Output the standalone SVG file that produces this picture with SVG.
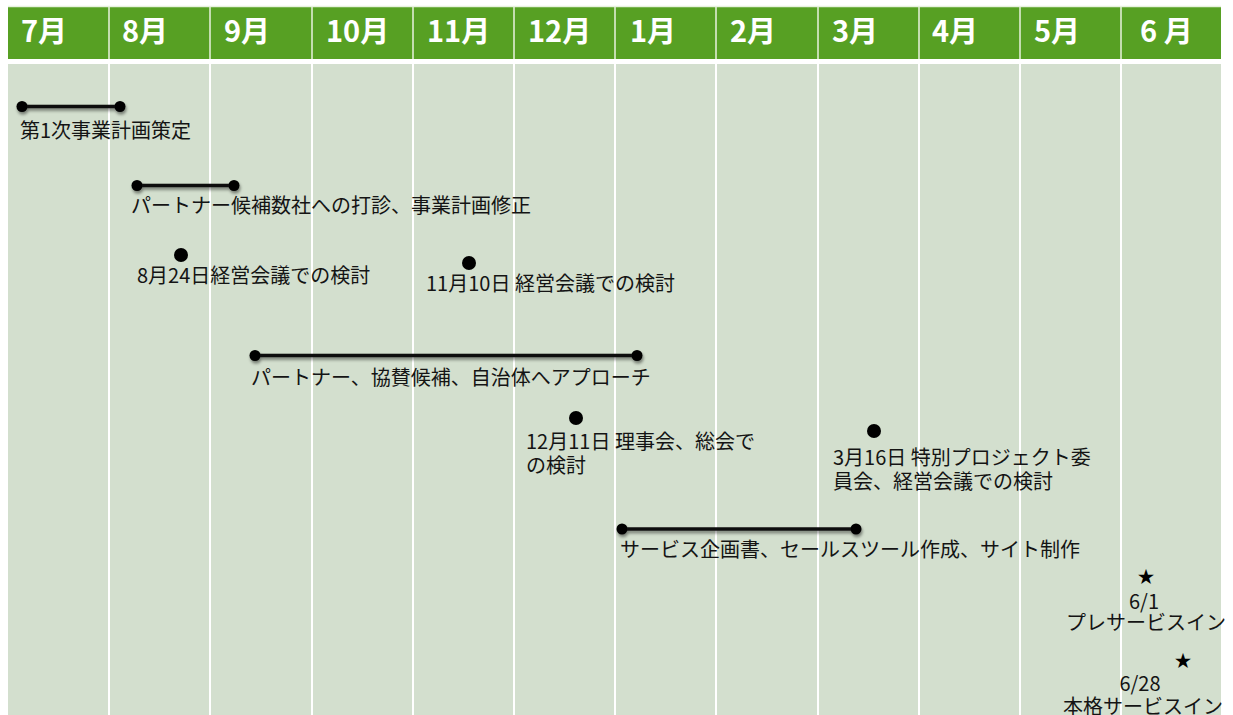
<svg xmlns="http://www.w3.org/2000/svg" width="1233" height="715" viewBox="0 0 1233 715">
<defs>
<style>
.hd{fill:#57A023}
.bd{fill:#D3DFCE}
.gl{stroke:#FFFFFF;stroke-width:2}
.gh{stroke:#E8F2DF;stroke-width:1.5}
.mh{font-family:"Noto Sans CJK JP","Noto Sans",sans-serif;font-weight:700;font-size:29px;fill:#FFFFFF}
.t{font-family:"Noto Sans CJK JP","Noto Sans",sans-serif;font-size:20px;fill:#141414}
.bar{stroke:#111;stroke-width:3.5;stroke-linecap:round}
.end{fill:#000}
.dot{fill:#000}
.st{font-family:"Noto Sans CJK JP","DejaVu Sans",sans-serif;font-size:17px;fill:#000}
</style>
<filter id="sh" x="-10%" y="-100%" width="120%" height="400%">
<feDropShadow dx="1" dy="2.5" stdDeviation="1.6" flood-color="#000" flood-opacity="0.45"/>
</filter>
</defs>
<rect width="1233" height="715" fill="#FFFFFF"/>
<g id="header">
<rect class="hd" x="8" y="7" width="1213" height="52"/>
<line class="gh" x1="8" y1="6.5" x2="1221" y2="6.5"/>
<g class="gh">
<line x1="109" y1="7" x2="109" y2="59"/><line x1="210" y1="7" x2="210" y2="59"/><line x1="312" y1="7" x2="312" y2="59"/><line x1="413" y1="7" x2="413" y2="59"/><line x1="514" y1="7" x2="514" y2="59"/><line x1="615" y1="7" x2="615" y2="59"/><line x1="716" y1="7" x2="716" y2="59"/><line x1="818" y1="7" x2="818" y2="59"/><line x1="919" y1="7" x2="919" y2="59"/><line x1="1020" y1="7" x2="1020" y2="59"/><line x1="1121" y1="7" x2="1121" y2="59"/>
</g>
<text class="mh" x="21" y="42">7月</text>
<text class="mh" x="122" y="42">8月</text>
<text class="mh" x="224" y="42">9月</text>
<text class="mh" x="326" y="42">10月</text>
<text class="mh" x="427" y="42">11月</text>
<text class="mh" x="528" y="42">12月</text>
<text class="mh" x="630" y="42">1月</text>
<text class="mh" x="730" y="42">2月</text>
<text class="mh" x="832" y="42">3月</text>
<text class="mh" x="932" y="42">4月</text>
<text class="mh" x="1034" y="42">5月</text>
<text class="mh" x="1140" y="42">6 月</text>
</g>
<g id="body">
<rect class="bd" x="8" y="64" width="1213" height="651"/>
<g class="gl">
<line x1="109" y1="64" x2="109" y2="715"/><line x1="210" y1="64" x2="210" y2="715"/><line x1="312" y1="64" x2="312" y2="715"/><line x1="413" y1="64" x2="413" y2="715"/><line x1="514" y1="64" x2="514" y2="715"/><line x1="615" y1="64" x2="615" y2="715"/><line x1="716" y1="64" x2="716" y2="715"/><line x1="818" y1="64" x2="818" y2="715"/><line x1="919" y1="64" x2="919" y2="715"/><line x1="1020" y1="64" x2="1020" y2="715"/><line x1="1121" y1="64" x2="1121" y2="715"/>
</g>
</g>
<g id="connectors">
<g filter="url(#sh)">
<line class="bar" x1="22" y1="106.5" x2="120" y2="106.5"/>
<circle class="end" cx="22" cy="106.5" r="5.5"/><circle class="end" cx="120" cy="106.5" r="5.5"/>
</g>
<g filter="url(#sh)">
<line class="bar" x1="137" y1="185.5" x2="234" y2="185.5"/>
<circle class="end" cx="137" cy="185.5" r="5.5"/><circle class="end" cx="234" cy="185.5" r="5.5"/>
</g>
<g filter="url(#sh)">
<line class="bar" x1="255" y1="355.5" x2="637" y2="355.5"/>
<circle class="end" cx="255" cy="355.5" r="5.5"/><circle class="end" cx="637" cy="355.5" r="5.5"/>
</g>
<g filter="url(#sh)">
<line class="bar" x1="622" y1="529" x2="856" y2="529"/>
<circle class="end" cx="622" cy="529" r="5.5"/><circle class="end" cx="856" cy="529" r="5.5"/>
</g>
</g>
<g id="n-plan1">
<text class="t" x="20" y="138">第1次事業計画策定</text>
</g>
<g id="n-partner1">
<text class="t" x="131" y="213">パートナー候補数社への打診、事業計画修正</text>
</g>
<g id="n-aug24">
<circle class="dot" cx="181" cy="255" r="7"/>
<text class="t" x="137" y="283">8月24日経営会議での検討</text>
</g>
<g id="n-nov10">
<circle class="dot" cx="469" cy="263" r="7"/>
<text class="t" x="426" y="291">11月10日 経営会議での検討</text>
</g>
<g id="n-approach">
<text class="t" x="251" y="385">パートナー、協賛候補、自治体へアプローチ</text>
</g>
<g id="n-dec11">
<circle class="dot" cx="576" cy="418" r="7"/>
<text class="t" x="526" y="449">12月11日 理事会、総会で</text>
<text class="t" x="526" y="473">の検討</text>
</g>
<g id="n-mar16">
<circle class="dot" cx="874" cy="431" r="7"/>
<text class="t" x="833" y="465">3月16日 特別プロジェクト委</text>
<text class="t" x="833" y="489">員会、経営会議での検討</text>
</g>
<g id="n-service">
<text class="t" x="620" y="557">サービス企画書、セールスツール作成、サイト制作</text>
</g>
<g id="n-jun1">
<text class="st" x="1146" y="583" text-anchor="middle">★</text>
<text class="t" x="1144" y="609" text-anchor="middle">6/1</text>
<text class="t" x="1146" y="630" text-anchor="middle">プレサービスイン</text>
</g>
<g id="n-jun28">
<text class="st" x="1183" y="667" text-anchor="middle">★</text>
<text class="t" x="1140" y="691" text-anchor="middle">6/28</text>
<text class="t" x="1143" y="714" text-anchor="middle">本格サービスイン</text>
</g>
</svg>
